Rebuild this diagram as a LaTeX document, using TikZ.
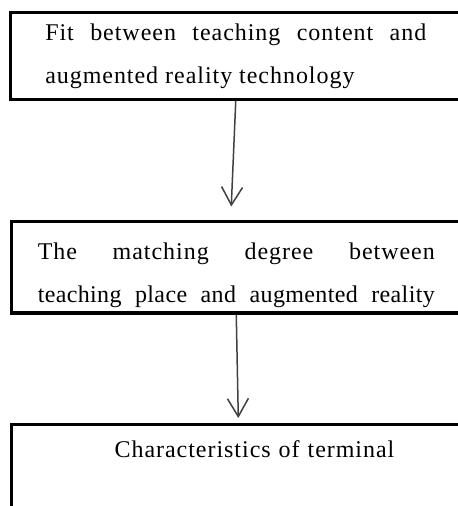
\documentclass[tikz,border=0pt]{standalone}
\usepackage{fontspec}
\setmainfont{Liberation Serif}[LetterSpace=4.0]
\usepackage{tikz}
\usetikzlibrary{arrows.meta, positioning, calc}

\tikzset{
  flowbox/.style={draw=black, line width=1.5pt, rectangle, inner sep=0pt,
    font=\fontsize{12}{21.5}\selectfont},
  flowarrow/.style={draw=black!75, line width=0.75pt,
    -{Straight Barb[length=9pt,width=10.5pt]}}
}

\begin{document}
\begin{tikzpicture}[x=0.5pt, y=-0.5pt]
    % Marco del dibujo
    \clip (0,0) rectangle (458,506);
    % Primera caja
    \node[flowbox, minimum width=225.25pt, minimum height=43.25pt,
      text width=190.5pt, align=justify] (fitbox) at (235.75,56.25)
      {Fit between teaching content and\linebreak augmented reality technology};
    % Segunda caja
    \node[flowbox, minimum width=224.75pt, minimum height=45.5pt,
      text width=198.5pt, align=justify] (matchbox) at (236.25,267.5)
      {\parfillskip=0pt\rule{0pt}{16.5pt}The matching degree between\linebreak
       {\addfontfeature{LetterSpace=1.5}teaching place and augmented reality}\par};
    % Tercera caja
    \node[flowbox, anchor=north, minimum width=224.65pt, text width=224.65pt,
      text height=16.5pt, text depth=52pt, align=left] (termbox) at (236.3,423)
      {\hspace*{51.5pt}Characteristics of terminal};
    % Flechas entre las cajas
    \draw[flowarrow] (fitbox.south) -- ($(matchbox.north)+(-5,-14)$);
    \draw[flowarrow] (matchbox.south) -- ($(termbox.north)+(2,-5)$);
\end{tikzpicture}
\end{document}
